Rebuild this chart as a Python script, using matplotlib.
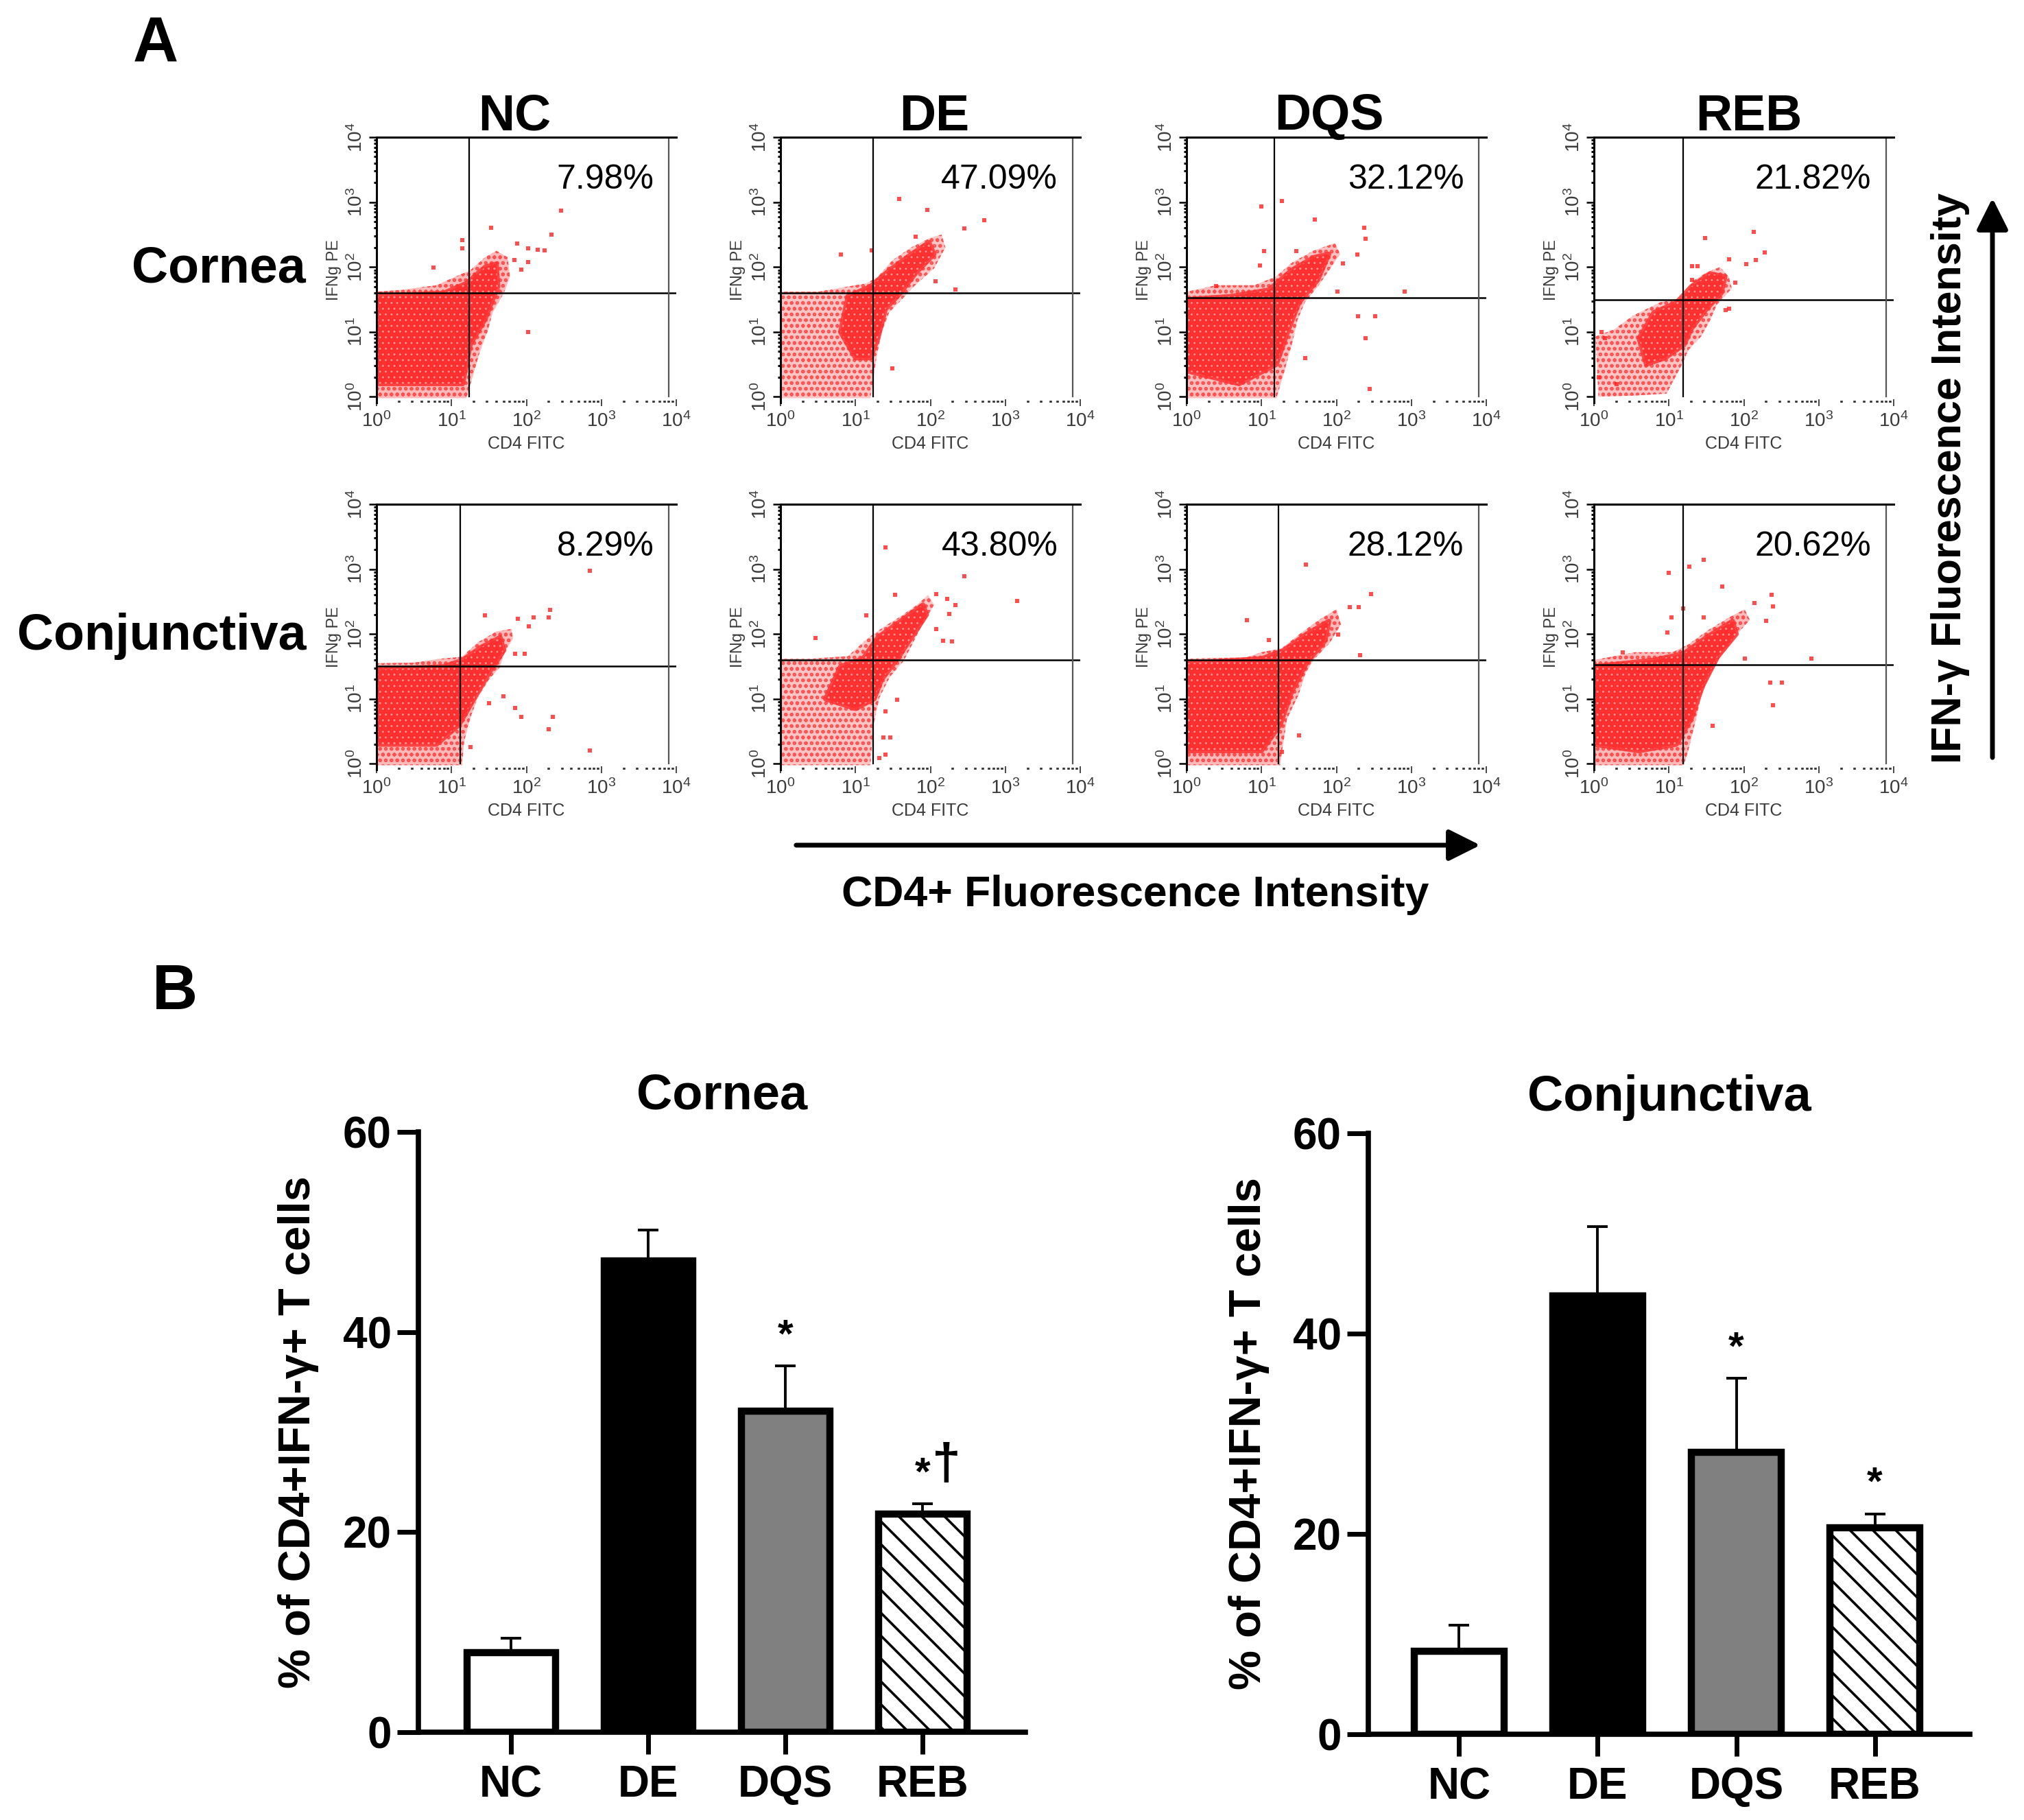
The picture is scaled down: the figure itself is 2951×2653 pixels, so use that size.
import numpy as np
import matplotlib
matplotlib.use('Agg')
import matplotlib.pyplot as plt
from matplotlib.patches import FancyArrowPatch
from matplotlib.ticker import FixedLocator, NullFormatter

plt.rcParams['font.family'] = ['Liberation Sans', 'DejaVu Sans']
plt.rcParams['mathtext.fontset'] = 'custom'
plt.rcParams['mathtext.rm'] = 'Liberation Sans'
plt.rcParams['mathtext.it'] = 'Liberation Sans:italic'
plt.rcParams['mathtext.bf'] = 'Liberation Sans:bold'

groups = ['NC', 'DE', 'DQS', 'REB']
tissues = ['Cornea', 'Conjunctiva']

# percentages printed in the upper-right quadrant of each dot plot
cornea_pct = [7.98, 47.09, 32.12, 21.82]
conj_pct = [8.29, 43.80, 28.12, 20.62]

# quadrant gates, log10 units (CD4, IFNg)
cornea_gate_x = [1.24, 1.24, 1.17, 1.19]
cornea_gate_y = [1.60, 1.60, 1.53, 1.50]
conj_gate_x = [1.12, 1.24, 1.23, 1.19]
conj_gate_y = [1.51, 1.60, 1.60, 1.53]

# dot clouds, log10 units: outline of the cloud,
# outline of its dense part, and the loose events outside it
cornea_nc_outer = [(0, -0.02), (0, 1.62), (0.35, 1.65), (0.8, 1.72), (1.05, 1.85), (1.25, 1.95),
                   (1.45, 2.15), (1.6, 2.25), (1.75, 2.15), (1.78, 1.85), (1.7, 1.6), (1.55, 1.3),
                   (1.48, 1.0), (1.38, 0.7), (1.28, 0.3), (1.2, -0.02)]
cornea_nc_core = [(0, 0.2), (0, 1.55), (0.9, 1.6), (1.2, 1.75), (1.45, 2.0), (1.6, 2.05), (1.62, 1.7),
                  (1.45, 1.2), (1.25, 0.8), (1.15, 0.2)]
cornea_nc_dots = [(2.46, 2.87), (1.53, 2.60), (2.33, 2.50), (1.88, 2.36), (1.14, 2.42), (1.14, 2.29),
                  (2.02, 2.29), (2.15, 2.27), (2.24, 2.26), (2.02, 2.08), (0.76, 1.99), (1.93, 1.96),
                  (2.02, 1.0), (1.84, 2.11)]

cornea_de_outer = [(0, -0.02), (0, 1.62), (0.5, 1.62), (0.9, 1.7), (1.15, 1.75), (1.3, 1.85), (1.49, 2.1),
                   (1.74, 2.3), (2.0, 2.45), (2.15, 2.5), (2.2, 2.3), (2.05, 1.98), (1.78, 1.7),
                   (1.62, 1.5), (1.45, 1.3), (1.35, 1.0), (1.28, 0.6), (1.2, -0.02)]
cornea_de_core = [(0.8, 1.0), (0.9, 1.55), (1.2, 1.7), (1.45, 1.95), (1.75, 2.2), (1.98, 2.38), (2.05, 2.2),
                  (1.8, 1.9), (1.6, 1.6), (1.4, 1.35), (1.3, 0.9), (1.2, 0.6), (1.0, 0.6)]
cornea_de_dots = [(1.58, 3.05), (1.96, 2.88), (2.72, 2.72), (2.45, 2.59), (0.81, 2.19), (1.22, 2.26),
                  (2.07, 1.78), (2.33, 1.65), (1.49, 0.44), (1.80, 2.47)]

cornea_dqs_outer = [(0, -0.02), (0, 1.62), (0.4, 1.72), (0.9, 1.72), (1.19, 1.85), (1.41, 2.07),
                    (1.69, 2.25), (1.98, 2.37), (2.05, 2.2), (1.76, 1.71), (1.58, 1.46), (1.48, 1.18),
                    (1.41, 0.83), (1.30, 0.37), (1.2, -0.02)]
cornea_dqs_core = [(0, 0.4), (0, 1.5), (0.6, 1.55), (1.1, 1.65), (1.4, 1.95), (1.7, 2.15), (1.9, 2.2),
                   (1.75, 1.8), (1.5, 1.45), (1.35, 1.0), (1.2, 0.5), (0.7, 0.2)]
cornea_dqs_dots = [(1.0, 2.93), (1.27, 3.02), (1.71, 2.73), (2.37, 2.60), (2.39, 2.44), (1.03, 2.25),
                   (1.46, 2.25), (2.09, 2.06), (2.28, 2.19), (0.98, 2.02), (2.01, 1.62), (2.91, 1.62),
                   (2.29, 1.24), (2.52, 1.24), (2.39, 0.90), (2.44, 0.12), (1.58, 0.60), (0.39, 1.71)]

cornea_reb_outer = [(0.06, 0.0), (0.02, 0.93), (0.27, 1.04), (0.52, 1.25), (0.89, 1.46), (1.22, 1.53),
                    (1.31, 1.78), (1.51, 1.92), (1.68, 2.0), (1.80, 1.85), (1.84, 1.67), (1.64, 1.42),
                    (1.55, 1.18), (1.43, 0.93), (1.26, 0.72), (1.18, 0.51), (0.97, 0.05), (0.56, 0.02)]
cornea_reb_core = [(0.6, 0.9), (0.8, 1.3), (1.1, 1.45), (1.3, 1.7), (1.55, 1.9), (1.75, 1.85), (1.7, 1.6),
                   (1.5, 1.35), (1.3, 1.05), (1.2, 0.8), (0.95, 0.6), (0.7, 0.5)]
cornea_reb_dots = [(2.13, 2.54), (1.48, 2.45), (2.28, 2.22), (1.80, 2.12), (2.16, 2.11), (2.03, 2.04),
                   (1.31, 2.01), (1.38, 2.01), (1.31, 1.80), (1.89, 1.76), (1.80, 1.36), (1.76, 1.34),
                   (0.15, 0.90), (0.06, 0.30), (0.3, 0.2), (0.1, 1.0)]

conj_nc_outer = [(0, -0.02), (0, 1.55), (0.5, 1.56), (0.85, 1.62), (1.14, 1.65), (1.35, 1.87), (1.6, 2.04),
                 (1.8, 2.08), (1.82, 1.93), (1.71, 1.72), (1.64, 1.48), (1.5, 1.3), (1.35, 1.02),
                 (1.25, 0.7), (1.17, 0.35), (1.14, -0.02)]
conj_nc_core = [(0, 0.3), (0, 1.45), (0.9, 1.5), (1.15, 1.6), (1.4, 1.8), (1.65, 1.95), (1.7, 1.75),
                (1.5, 1.4), (1.3, 1.0), (1.1, 0.6), (0.8, 0.3)]
conj_nc_dots = [(2.85, 2.97), (2.32, 2.37), (1.45, 2.29), (1.89, 2.23), (2.10, 2.26), (2.30, 2.26),
                (2.03, 2.12), (1.85, 1.70), (1.98, 1.70), (1.69, 1.04), (1.50, 0.93), (1.85, 0.86),
                (1.93, 0.72), (2.35, 0.72), (2.30, 0.53), (2.85, 0.21), (1.25, 0.26)]

conj_de_outer = [(0, -0.02), (0, 1.62), (0.4, 1.62), (0.9, 1.66), (1.17, 1.94), (1.39, 2.12), (1.6, 2.27),
                 (1.81, 2.44), (1.97, 2.6), (2.05, 2.45), (1.88, 2.12), (1.74, 1.8), (1.64, 1.58),
                 (1.46, 1.34), (1.32, 1.02), (1.24, 0.6), (1.2, -0.02)]
conj_de_core = [(0.6, 1.0), (0.8, 1.5), (1.1, 1.62), (1.3, 1.95), (1.6, 2.2), (1.9, 2.45), (1.95, 2.3),
                (1.75, 1.95), (1.55, 1.6), (1.35, 1.3), (1.25, 1.0), (1.0, 0.85)]
conj_de_dots = [(1.40, 3.33), (2.45, 2.89), (3.16, 2.51), (1.53, 2.61), (2.08, 2.62), (2.22, 2.54),
                (2.33, 2.45), (2.25, 2.31), (1.14, 2.29), (0.47, 1.94), (2.17, 1.90), (2.29, 1.89),
                (2.08, 2.08), (1.56, 0.99), (1.40, 0.81), (1.37, 0.41), (1.46, 0.41), (1.40, 0.14),
                (1.32, 0.09)]

conj_dqs_outer = [(0, -0.02), (0, 1.62), (0.8, 1.64), (1.0, 1.72), (1.27, 1.78), (1.52, 2.01), (1.77, 2.22),
                  (2.0, 2.38), (2.06, 2.15), (1.91, 1.86), (1.70, 1.61), (1.59, 1.40), (1.49, 1.05),
                  (1.34, 0.69), (1.27, 0.16), (1.25, -0.02)]
conj_dqs_core = [(0, 0.2), (0, 1.55), (1.0, 1.62), (1.3, 1.75), (1.6, 2.0), (1.9, 2.2), (1.85, 1.9),
                 (1.6, 1.55), (1.4, 1.1), (1.25, 0.6), (1.0, 0.2)]
conj_dqs_dots = [(1.59, 3.07), (2.46, 2.62), (2.30, 2.41), (2.18, 2.41), (0.81, 2.21), (1.10, 1.91),
                 (2.02, 1.99), (2.32, 1.67), (1.50, 0.44), (1.27, 0.18)]

conj_reb_outer = [(0, -0.02), (0, 1.6), (0.55, 1.72), (1.05, 1.72), (1.26, 1.84), (1.51, 2.05),
                  (1.81, 2.26), (2.01, 2.38), (2.08, 2.22), (1.89, 1.97), (1.68, 1.63), (1.55, 1.38),
                  (1.43, 1.05), (1.35, 0.63), (1.26, 0.21), (1.2, -0.02)]
conj_reb_core = [(0, 0.3), (0, 1.5), (0.8, 1.6), (1.2, 1.7), (1.5, 1.95), (1.85, 2.2), (1.9, 2.0),
                 (1.65, 1.65), (1.45, 1.2), (1.3, 0.7), (1.1, 0.3), (0.6, 0.2)]
conj_reb_dots = [(1.46, 3.14), (1.27, 3.04), (1.0, 2.94), (1.71, 2.73), (2.37, 2.60), (2.14, 2.48),
                 (2.39, 2.43), (1.19, 2.39), (1.03, 2.26), (1.46, 2.26), (0.98, 2.02), (2.30, 2.20),
                 (2.01, 1.62), (2.90, 1.62), (2.35, 1.25), (2.51, 1.25), (2.39, 0.90), (1.58, 0.59),
                 (0.38, 1.72)]

# bar charts (mean + upper error)
cornea_mean = [7.98, 47.09, 32.12, 21.82]
cornea_err = [1.4, 3.1, 4.5, 1.0]
cornea_marks = ['', '', '*', '*']
cornea_dagger = ['', '', '', '†']
conj_mean = [8.29, 43.80, 28.12, 20.62]
conj_err = [2.6, 6.9, 7.4, 1.4]
conj_marks = ['', '', '*', '*']
conj_dagger = ['', '', '', '']

gray = '#3a3a3a'
decades = [1, 10, 100, 1000, 10000]
dec_labels = [r'$10^{0}$', r'$10^{1}$', r'$10^{2}$', r'$10^{3}$', r'$10^{4}$']
minor = [m * 10 ** d for d in range(4) for m in range(2, 10)]


def poly(ax, pts, **kw):
    xs = [10 ** p[0] for p in pts]
    ys = [10 ** p[1] for p in pts]
    ax.fill(xs, ys, **kw)


def flow_panel(ax, outer, core, dots, gx, gy, pct, light):
    ax.set_xscale('log')
    ax.set_yscale('log')
    ax.set_xlim(1, 1e4)
    ax.set_ylim(10 ** -0.09, 1e4)

    # loose part of the cloud: pale wash with fine red speckles
    with plt.rc_context({'hatch.linewidth': 1.4}):
        poly(ax, outer, facecolor='#ff8080', alpha=light, edgecolor='none', zorder=1)
        poly(ax, outer, facecolor='none', edgecolor='#ff1010', hatch='oo', linewidth=0, alpha=0.6, zorder=1.2)
        # dense part: red with small pale gaps, soft rim
        poly(ax, core, facecolor='#ff1818', alpha=0.85, edgecolor='#ff3030', linewidth=5,
             joinstyle='round', zorder=1.5)
        poly(ax, core, facecolor='none', edgecolor='#ffd0d0', hatch='..', linewidth=0, alpha=0.5, zorder=1.6)
    ax.scatter([10 ** p[0] for p in dots], [10 ** p[1] for p in dots], s=13, marker='s',
               color='#ff2020', alpha=0.8, linewidths=0, zorder=2)

    ax.plot([10 ** gx, 10 ** gx], [1, 1e4], color='black', lw=1.6, zorder=3)
    ax.plot([1, 1e4], [10 ** gy, 10 ** gy], color='black', lw=1.8, zorder=3)
    ax.plot([10 ** 3.9, 10 ** 3.9], [1, 1e4], color='#555555', lw=1.6, zorder=3)

    for s in ['right', 'bottom']:
        ax.spines[s].set_visible(False)
    for s in ['top', 'left']:
        ax.spines[s].set_linewidth(2.2)
        ax.spines[s].set_zorder(4)

    ax.set_xticks(decades, dec_labels)
    ax.xaxis.set_minor_locator(FixedLocator(minor))
    ax.xaxis.set_minor_formatter(NullFormatter())
    ax.tick_params(axis='x', which='major', direction='inout', length=7, width=1.3, pad=6,
                   labelsize=20, labelcolor=gray, color=gray)
    ax.tick_params(axis='x', which='minor', direction='in', length=2, width=2.6, color=gray)

    ax.set_yticks(decades, dec_labels, rotation=90, va='center')
    ax.yaxis.set_minor_locator(FixedLocator(minor))
    ax.yaxis.set_minor_formatter(NullFormatter())
    ax.tick_params(axis='y', which='major', direction='out', length=8, width=1.8, pad=3,
                   labelsize=20, labelcolor=gray)
    ax.tick_params(axis='y', which='minor', direction='out', length=3, width=2.2)

    ax.set_xlabel('CD4 FITC', fontsize=18, color=gray, va='center')
    ax.xaxis.set_label_coords(0.5, -0.155)
    ax.set_ylabel('IFNg PE', fontsize=17, color=gray, va='center')
    ax.yaxis.set_label_coords(-0.142, 0.5)

    ax.text(0.925, 0.84, f'{pct:.2f}%', transform=ax.transAxes, ha='right', va='center', fontsize=36)


def bar_panel(ax, means, errs, marks, daggers, title, xlim):
    x = np.arange(len(groups))
    faces = ['white', 'black', '#808080', 'white']
    with plt.rc_context({'hatch.linewidth': 2.6}):
        bars = ax.bar(x, means, width=0.645, color=faces, edgecolor='black', linewidth=7.5, zorder=2)
        bars[3].set_hatch('\\')
    ax.errorbar(x, means, yerr=[np.zeros(len(errs)), errs], fmt='none', ecolor='black',
                elinewidth=2.8, capsize=11, capthick=2.8, zorder=1)
    for i in range(len(groups)):
        top = means[i] + errs[i]
        if marks[i]:
            ax.annotate(marks[i], (x[i], top), xytext=(0, 20), textcoords='offset points',
                        ha='center', va='baseline', fontsize=42, fontweight='bold')
        if daggers[i]:
            ax.annotate(daggers[i], (x[i], top), xytext=(25, 26), textcoords='offset points',
                        ha='center', va='baseline', fontsize=54, fontweight='bold')

    ax.set_xlim(*xlim)
    ax.set_ylim(0, 60)
    ax.set_yticks([0, 20, 40, 60])
    ax.set_xticks(x, groups)
    for s in ['top', 'right']:
        ax.spines[s].set_visible(False)
    for s in ['left', 'bottom']:
        ax.spines[s].set_linewidth(5.5)
    ax.tick_params(axis='y', length=22, width=5, pad=6, labelsize=46)
    ax.tick_params(axis='x', length=23, width=5, pad=11, labelsize=46)
    for lab in ax.get_xticklabels() + ax.get_yticklabels():
        lab.set_fontweight('bold')
    ax.set_title(title, fontsize=52, fontweight='bold', pad=24)
    ax.set_ylabel('% of CD4+IFN-γ+ T cells', fontsize=47, fontweight='bold', va='center')


fig = plt.figure(figsize=(29.51, 26.53), dpi=100)
W, H = 2951, 2653

flow_lefts = [549, 1138, 1730, 2324]
flow_tops = [200, 735]
fw, fh = 437, 387
title_x = [750, 1362, 1938, 2550]

rows = [
    (cornea_pct, cornea_gate_x, cornea_gate_y,
     [cornea_nc_outer, cornea_de_outer, cornea_dqs_outer, cornea_reb_outer],
     [cornea_nc_core, cornea_de_core, cornea_dqs_core, cornea_reb_core],
     [cornea_nc_dots, cornea_de_dots, cornea_dqs_dots, cornea_reb_dots]),
    (conj_pct, conj_gate_x, conj_gate_y,
     [conj_nc_outer, conj_de_outer, conj_dqs_outer, conj_reb_outer],
     [conj_nc_core, conj_de_core, conj_dqs_core, conj_reb_core],
     [conj_nc_dots, conj_de_dots, conj_dqs_dots, conj_reb_dots]),
]
lightness = [[0.55, 0.45, 0.5, 0.45], [0.55, 0.45, 0.55, 0.55]]

for r, (pcts, gxs, gys, outers, cores, dots) in enumerate(rows):
    for c in range(4):
        ax = fig.add_axes([flow_lefts[c] / W, 1 - (flow_tops[r] + fh) / H, fw / W, fh / H])
        flow_panel(ax, outers[c], cores[c], dots[c], gxs[c], gys[c], pcts[c], lightness[r][c])
        if r == 0:
            fig.text(title_x[c] / W, 1 - 170 / H, groups[c], ha='center', va='center',
                     fontsize=53, fontweight='bold')
    fig.text(446 / W, 1 - (flow_tops[r] + 192) / H, tissues[r], ha='right', va='center',
             fontsize=53, fontweight='bold')

fig.text(227 / W, 1 - 66 / H, 'A', ha='center', va='center', fontsize=66, fontweight='bold')
fig.text(255 / W, 1 - 1447 / H, 'B', ha='center', va='center', fontsize=66, fontweight='bold')

# axis arrows for panel A
fig.add_artist(FancyArrowPatch((1158 / W, 1 - 1232 / H), (2161 / W, 1 - 1232 / H),
                               transform=fig.transFigure, arrowstyle='-|>,head_length=0.7,head_width=0.35',
                               mutation_scale=40, lw=5, color='black'))
fig.text(1655 / W, 1 - 1304 / H, 'CD4+ Fluorescence Intensity', ha='center', va='center',
         fontsize=45, fontweight='bold')
fig.add_artist(FancyArrowPatch((2905 / W, 1 - 1107 / H), (2905 / W, 1 - 286 / H),
                               transform=fig.transFigure, arrowstyle='-|>,head_length=0.7,head_width=0.35',
                               mutation_scale=40, lw=5, color='black'))
fig.text(2844 / W, 1 - 697 / H, 'IFN-γ Fluorescence Intensity', ha='center', va='center',
         rotation=90, fontsize=44, fontweight='bold')

# panel B
axl = fig.add_axes([610 / W, 1 - 2525 / H, 885 / W, 875 / H])
bar_panel(axl, cornea_mean, cornea_err, cornea_marks, cornea_dagger, tissues[0], (-0.675, 3.75))
axl.yaxis.set_label_coords(-0.198, 0.5)
axr = fig.add_axes([1995 / W, 1 - 2528 / H, 877 / W, 876 / H])
bar_panel(axr, conj_mean, conj_err, conj_marks, conj_dagger, tissues[1], (-0.655, 3.685))
axr.yaxis.set_label_coords(-0.198, 0.5)

fig.savefig('out.png', dpi=100, facecolor='white')
